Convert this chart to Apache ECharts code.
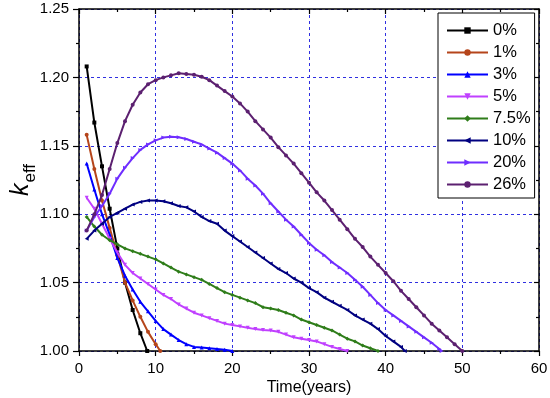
<!DOCTYPE html>
<html>
<head>
<meta charset="utf-8">
<script src="https://cdn.jsdelivr.net/npm/echarts@6/dist/echarts.min.js"></script>
<style>
html,body{margin:0;padding:0;background:#fff;}
#chart{width:550px;height:398px;}
</style>
</head>
<body>
<div id="chart"></div>
<script>
// ---- data ----
const seriesNames = ['0%', '1%', '3%', '5%', '7.5%', '10%', '20%', '26%'];

const years0 = [1, 2, 3, 4, 5, 6, 7, 8, 8.9];
const keff0 = [1.208, 1.167, 1.135, 1.104, 1.075, 1.050, 1.030, 1.013, 1.000];

const years1 = [1, 2, 3, 4, 5, 6, 7, 8, 9, 10, 10.6];
const keff1 = [1.158, 1.133, 1.110, 1.090, 1.070, 1.050, 1.037, 1.025, 1.014, 1.005, 1.000];

const years3 = [1, 2, 3, 4, 5, 6, 7, 8, 9, 10, 11, 12, 13, 14, 15, 16, 17, 18, 19, 20];
const keff3 = [1.137, 1.118, 1.100, 1.085, 1.068, 1.055, 1.045, 1.036, 1.029, 1.022, 1.016, 1.012, 1.008, 1.005, 1.003, 1.0025, 1.002, 1.0015, 1.001, 1.000];

const years5 = [1, 2, 3, 4, 5, 6, 7, 8, 9, 10, 11, 12, 13, 14, 15, 16, 17, 18, 19, 20, 21, 22, 23, 24, 25, 26, 27, 28, 29, 30, 31, 32, 33, 34, 35];
const keff5 = [1.112, 1.104, 1.093, 1.082, 1.072, 1.063, 1.057, 1.053, 1.049, 1.045, 1.041, 1.038, 1.034, 1.031, 1.028, 1.026, 1.024, 1.022, 1.020, 1.019, 1.018, 1.017, 1.016, 1.0154, 1.015, 1.014, 1.012, 1.010, 1.009, 1.008, 1.007, 1.005, 1.003, 1.0015, 1.000];

const years7 = [1, 2, 3, 4, 5, 6, 7, 8, 9, 10, 11, 12, 13, 14, 15, 16, 17, 18, 19, 20, 21, 22, 23, 24, 25, 26, 27, 28, 29, 30, 31, 32, 33, 34, 35, 36, 37, 38, 39];
const keff7 = [1.098, 1.091, 1.085, 1.081, 1.078, 1.075, 1.073, 1.071, 1.069, 1.067, 1.064, 1.061, 1.058, 1.056, 1.054, 1.052, 1.049, 1.046, 1.043, 1.041, 1.039, 1.037, 1.035, 1.032, 1.031, 1.030, 1.028, 1.026, 1.023, 1.021, 1.019, 1.017, 1.015, 1.012, 1.009, 1.007, 1.004, 1.002, 1.000];

const years10 = [1, 2, 3, 4, 5, 6, 7, 8, 9, 10, 11, 12, 13, 14, 15, 16, 17, 18, 19, 20, 21, 22, 23, 24, 25, 26, 27, 28, 29, 30, 31, 32, 33, 34, 35, 36, 37, 38, 39, 40, 41, 42, 42.5];
const keff10 = [1.082, 1.088, 1.093, 1.098, 1.101, 1.104, 1.107, 1.109, 1.110, 1.110, 1.1095, 1.108, 1.106, 1.105, 1.102, 1.098, 1.095, 1.093, 1.088, 1.084, 1.080, 1.076, 1.072, 1.068, 1.064, 1.060, 1.057, 1.053, 1.050, 1.046, 1.043, 1.039, 1.036, 1.033, 1.030, 1.026, 1.023, 1.020, 1.016, 1.011, 1.007, 1.003, 1.000];

const years20 = [1, 2, 3, 4, 5, 6, 7, 8, 9, 10, 11, 12, 13, 14, 15, 16, 17, 18, 19, 20, 21, 22, 23, 24, 25, 26, 27, 28, 29, 30, 31, 32, 33, 34, 35, 36, 37, 38, 39, 40, 41, 42, 43, 44, 45, 46, 47, 47.3];
const keff20 = [1.088, 1.098, 1.106, 1.115, 1.126, 1.134, 1.141, 1.147, 1.151, 1.154, 1.156, 1.1567, 1.1562, 1.155, 1.153, 1.151, 1.148, 1.145, 1.141, 1.137, 1.132, 1.126, 1.121, 1.115, 1.108, 1.102, 1.096, 1.091, 1.085, 1.079, 1.074, 1.070, 1.065, 1.061, 1.057, 1.052, 1.047, 1.041, 1.035, 1.030, 1.026, 1.022, 1.018, 1.014, 1.010, 1.006, 1.0015, 1.000];

const years26 = [1, 2, 3, 4, 5, 6, 7, 8, 9, 10, 11, 12, 13, 14, 15, 16, 17, 18, 19, 20, 21, 22, 23, 24, 25, 26, 27, 28, 29, 30, 31, 32, 33, 34, 35, 36, 37, 38, 39, 40, 41, 42, 43, 44, 45, 46, 47, 48, 49, 50];
const keff26 = [1.088, 1.100, 1.114, 1.133, 1.152, 1.168, 1.180, 1.189, 1.195, 1.198, 1.200, 1.2015, 1.203, 1.2025, 1.202, 1.2005, 1.198, 1.194, 1.190, 1.186, 1.181, 1.175, 1.168, 1.162, 1.156, 1.149, 1.143, 1.137, 1.130, 1.123, 1.116, 1.110, 1.103, 1.096, 1.089, 1.082, 1.076, 1.069, 1.063, 1.057, 1.051, 1.044, 1.038, 1.032, 1.026, 1.020, 1.015, 1.010, 1.005, 1.000];

const xTicks = [0, 10, 20, 30, 40, 50, 60];
const yTicks = [1.00, 1.05, 1.10, 1.15, 1.20, 1.25];

// ---- style ----
const colors = ['#000000', '#b5451b', '#0000ff', '#c040ff', '#2f7d1a', '#000080', '#6f2dff', '#5c2070'];
const symbols = ['rect', 'circle', 'triangle', 'path://M0,0L10,0L5,10Z', 'diamond',
  'path://M10,0L10,10L0,5Z', 'path://M0,0L0,10L10,5Z', 'circle'];

const allYears = [years0, years1, years3, years5, years7, years10, years20, years26];
const allKeff = [keff0, keff1, keff3, keff5, keff7, keff10, keff20, keff26];

const FONT = 'Liberation Sans, Arial, sans-serif';
const gridColor = '#3030e0';

const series = seriesNames.map((name, i) => ({
  name: name,
  type: 'line',
  data: allYears[i].map((t, j) => [t, allKeff[i][j]]),
  symbol: symbols[i],
  symbolSize: 4,
  showSymbol: true,
  lineStyle: { color: colors[i], width: 2 },
  itemStyle: { color: colors[i] },
  animation: false,
  z: 3 + i
}));

const chart = echarts.init(document.getElementById('chart'), null, { renderer: 'canvas' });
chart.setOption({
  backgroundColor: '#ffffff',
  animation: false,
  grid: { left: 79, right: 11, top: 9, bottom: 47, containLabel: false, outerBoundsMode: 'none' },
  legend: {
    data: seriesNames,
    orient: 'vertical',
    left: 438,
    top: 13,
    backgroundColor: '#ffffff',
    borderColor: '#000000',
    borderWidth: 1,
    borderRadius: 0,
    padding: [9, 4, 5, 8],
    itemWidth: 41,
    itemHeight: 8,
    itemGap: 5,
    textStyle: { fontFamily: FONT, fontSize: 16.5, color: '#000', lineHeight: 16 }
  },
  xAxis: [{
    type: 'value',
    min: xTicks[0],
    max: xTicks[xTicks.length - 1],
    interval: 10,
    name: 'Time(years)',
    nameLocation: 'middle',
    nameGap: 29,
    nameMoveOverlap: false,
    nameTextStyle: { fontFamily: FONT, fontSize: 16, color: '#000' },
    axisLine: { show: true, onZero: false, lineStyle: { color: '#000', width: 1.5 } },
    axisTick: { show: true, inside: false, length: 5, lineStyle: { color: '#000', width: 1.2 } },
    minorTick: { show: true, splitNumber: 2, length: 3, lineStyle: { color: '#000', width: 1.2 } },
    axisLabel: { fontFamily: FONT, fontSize: 15, color: '#000', margin: 10 },
    splitLine: { show: true, lineStyle: { color: gridColor, type: [3, 3], width: 1 } }
  }, {
    type: 'value',
    position: 'top',
    min: xTicks[0],
    max: xTicks[xTicks.length - 1],
    interval: 10,
    axisLine: { show: true, onZero: false, lineStyle: { color: '#000', width: 1.5 } },
    axisTick: { show: true, inside: true, length: 5, lineStyle: { color: '#000', width: 1.2 } },
    minorTick: { show: true, splitNumber: 2, length: 3, lineStyle: { color: '#000', width: 1.2 } },
    axisLabel: { show: false },
    splitLine: { show: false }
  }],
  yAxis: [{
    type: 'value',
    min: yTicks[0],
    max: yTicks[yTicks.length - 1],
    interval: 0.05,
    name: '{k|k}{s|eff}',
    nameLocation: 'middle',
    nameRotate: 90,
    nameGap: 45,
    nameMoveOverlap: false,
    nameTextStyle: {
      rich: {
        k: { fontFamily: FONT, fontSize: 25, fontStyle: 'italic', color: '#000', verticalAlign: 'bottom', lineHeight: 26 },
        s: { fontFamily: FONT, fontSize: 17, color: '#000', verticalAlign: 'bottom', padding: [0, 0, -5, 1], lineHeight: 26 }
      }
    },
    axisLine: { show: true, onZero: false, lineStyle: { color: '#000', width: 1.5 } },
    axisTick: { show: true, inside: false, length: 6, lineStyle: { color: '#000', width: 1.2 } },
    minorTick: { show: true, splitNumber: 2, length: 3, lineStyle: { color: '#000', width: 1.2 } },
    axisLabel: { fontFamily: FONT, fontSize: 15, color: '#000', margin: 10, formatter: v => v.toFixed(2) },
    splitLine: { show: true, lineStyle: { color: gridColor, type: [3, 3], width: 1 } }
  }, {
    type: 'value',
    position: 'right',
    min: yTicks[0],
    max: yTicks[yTicks.length - 1],
    interval: 0.05,
    axisLine: { show: true, onZero: false, lineStyle: { color: '#000', width: 1.5 } },
    axisTick: { show: true, inside: true, length: 5, lineStyle: { color: '#000', width: 1.2 } },
    minorTick: { show: true, splitNumber: 2, length: 3, lineStyle: { color: '#000', width: 1.2 } },
    axisLabel: { show: false },
    splitLine: { show: false }
  }],
  series: series
});
</script>
</body>
</html>
